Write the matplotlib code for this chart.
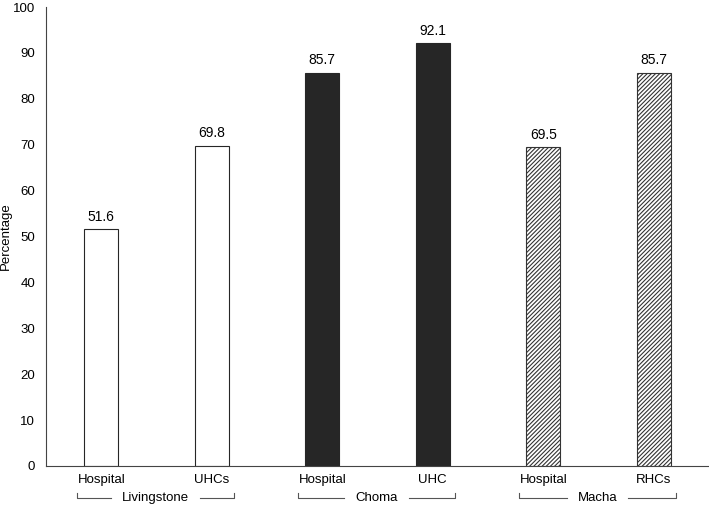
import matplotlib
matplotlib.use("Agg")
import matplotlib.pyplot as plt
import matplotlib.transforms as mtransforms

plt.rcParams["font.family"] = ["Liberation Sans", "DejaVu Sans"]
plt.rcParams["hatch.linewidth"] = 0.8

sites = ["Hospital", "UHCs", "Hospital", "UHC", "Hospital", "RHCs"]
districts = ["Livingstone", "Choma", "Macha"]
values = [51.6, 69.8, 85.7, 92.1, 69.5, 85.7]

# style per district
face = ["white", "white", "#262626", "#262626", "white", "white"]
hatch = [None, None, None, None, "////////", "////////"]
edge = ["#262626"] * 6

fig = plt.figure(figsize=(7.09, 5.07), dpi=100)
ax = fig.add_axes([0.065, 0.081, 0.935, 0.905])

x = list(range(len(values)))
bars = ax.bar(x, values, width=0.31, color=face, edgecolor=edge, linewidth=0.8)
for b, h in zip(bars, hatch):
    if h:
        b.set_hatch(h)
        b.set_edgecolor("#333333")

for xi, v in zip(x, values):
    ax.text(xi, v + 1.2, f"{v}", ha="center", va="bottom", fontsize=10)

ax.set_xlim(-0.5, 5.5)
ax.set_ylim(0, 100)
ax.set_yticks(range(0, 101, 10))
ax.set_ylabel("Percentage", fontsize=9.5)
ax.yaxis.set_label_coords(-0.052, 0.5)
ax.set_xticks(x)
ax.set_xticklabels(sites, fontsize=9.5)
ax.tick_params(axis="both", length=0, labelsize=9.5)
ax.tick_params(axis="x", pad=6)
ax.tick_params(axis="y", pad=8)
ax.spines["top"].set_visible(False)
ax.spines["right"].set_visible(False)
ax.spines["left"].set_color("#444444")
ax.spines["bottom"].set_color("#444444")

# district brackets below the tick labels, line broken around the name
trans = mtransforms.blended_transform_factory(ax.transData, ax.transAxes)
fig.canvas.draw()
renderer = fig.canvas.get_renderer()
for i, name in enumerate(districts):
    x0 = 2 * i - 0.22
    x1 = 2 * i + 1 + 0.2
    yb = -0.07
    xm = (x0 + x1) / 2
    t = ax.text(xm, yb, name, ha="center", va="center", fontsize=9.5, transform=trans)
    bb = t.get_window_extent(renderer).transformed(ax.transData.inverted())
    gap = 0.1
    ax.plot([x0, x0, bb.x0 - gap], [yb + 0.012, yb, yb], color="#555555",
            lw=0.8, transform=trans, clip_on=False)
    ax.plot([bb.x1 + gap, x1, x1], [yb, yb, yb + 0.012], color="#555555",
            lw=0.8, transform=trans, clip_on=False)

fig.savefig("out.png", dpi=100)
